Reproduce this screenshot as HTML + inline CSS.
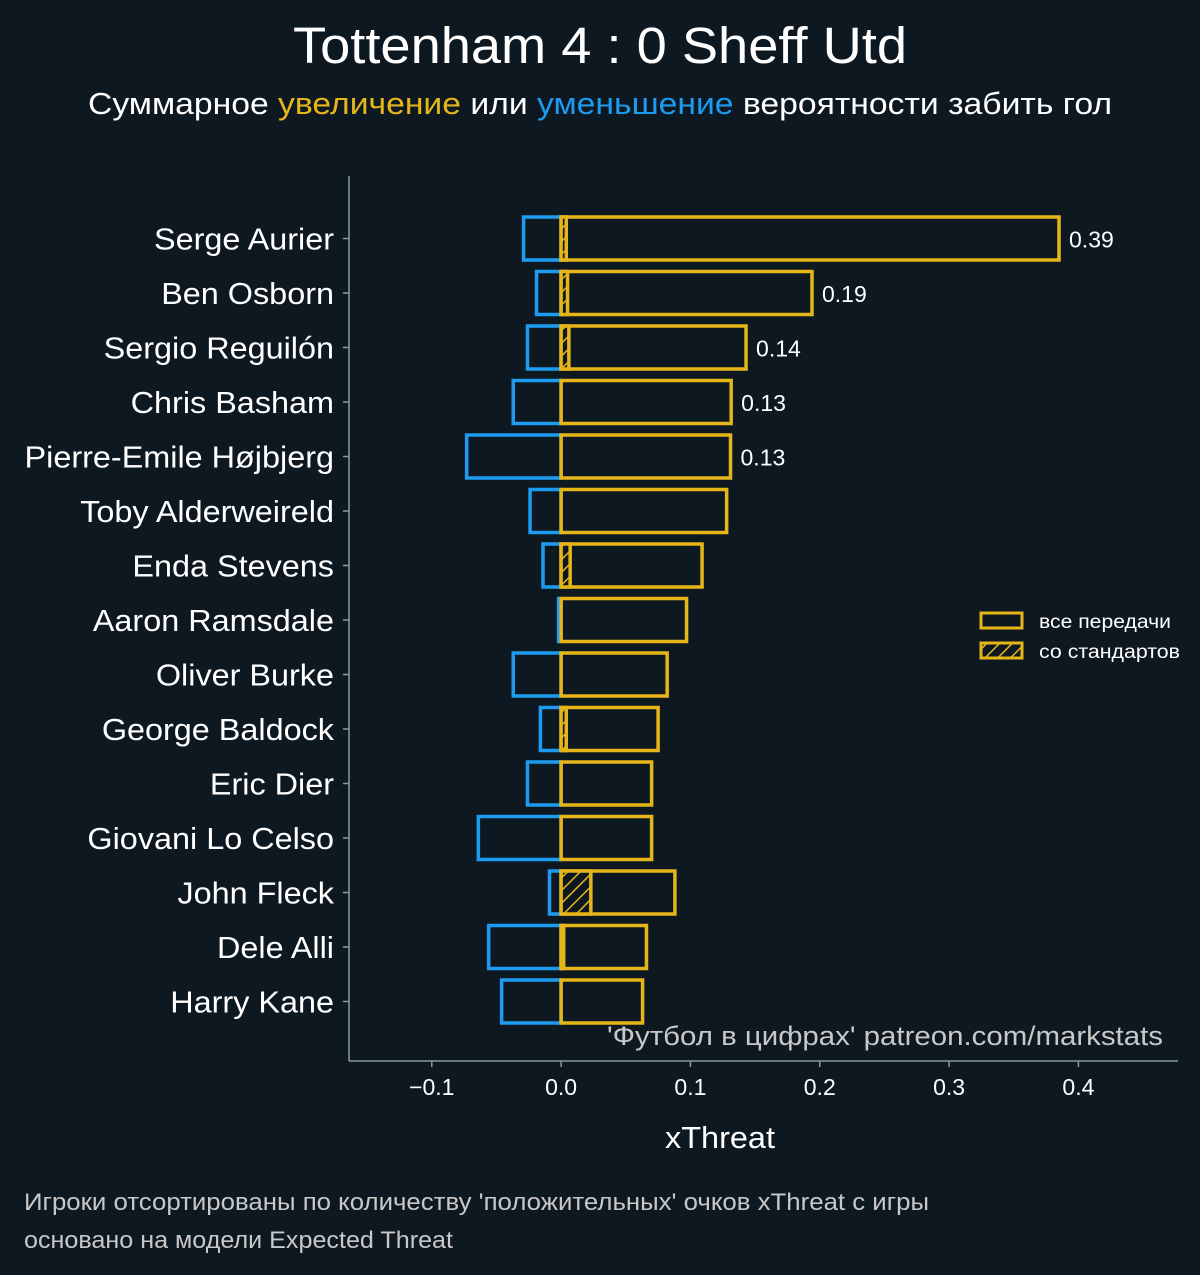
<!DOCTYPE html>
<html><head><meta charset="utf-8"><style>
html,body{margin:0;padding:0;background:#0e1821;}
svg{display:block;font-family:"Liberation Sans","DejaVu Sans",sans-serif;}
</style></head><body>
<svg id="chart" width="1200" height="1275" viewBox="0 0 1200 1275" xmlns="http://www.w3.org/2000/svg">
<defs>
<pattern id="hatch" width="9" height="9" patternUnits="userSpaceOnUse" patternTransform="rotate(45)">
<rect width="9" height="9" fill="#0e1821"/><line x1="0" y1="0" x2="0" y2="9" stroke="#e6b619" stroke-width="3"/>
</pattern>
</defs>
<rect width="1200" height="1275" fill="#0e1821"/>
<text x="293" y="63" textLength="614" lengthAdjust="spacingAndGlyphs" font-size="51" fill="#ffffff">Tottenham 4 : 0 Sheff Utd</text>
<text x="88" y="114" textLength="1024" lengthAdjust="spacingAndGlyphs" font-size="31" fill="#ffffff">Суммарное <tspan fill="#e6b619">увеличение</tspan> или <tspan fill="#1d9bf0">уменьшение</tspan> вероятности забить гол</text>
<g id="plot"></g>
<text x="607" y="1045" textLength="556" lengthAdjust="spacingAndGlyphs" font-size="27" fill="#c8c8c8">'Футбол в цифрах' patreon.com/markstats</text>
<text x="665" y="1148" textLength="110" lengthAdjust="spacingAndGlyphs" font-size="31" fill="#ffffff">xThreat</text>
<g>
<rect x="981" y="613" width="41" height="15" fill="none" stroke="#e6b619" stroke-width="3"/>
<text x="1039" y="628" textLength="132" lengthAdjust="spacingAndGlyphs" font-size="19" fill="#ffffff">все передачи</text>
<rect x="981" y="643" width="41" height="15" fill="url(#hatch)" stroke="#e6b619" stroke-width="3"/>
<text x="1039" y="658" textLength="141" lengthAdjust="spacingAndGlyphs" font-size="19" fill="#ffffff">со стандартов</text>
</g>
<text x="24" y="1210" textLength="905" lengthAdjust="spacingAndGlyphs" font-size="24" fill="#c8c8c8">Игроки отсортированы по количеству 'положительных' очков xThreat с игры</text>
<text x="24" y="1248" textLength="429" lengthAdjust="spacingAndGlyphs" font-size="24" fill="#c8c8c8">основано на модели Expected Threat</text>
</svg>
<script>
const players = ["Serge Aurier","Ben Osborn","Sergio Reguilón","Chris Basham","Pierre-Emile Højbjerg","Toby Alderweireld","Enda Stevens","Aaron Ramsdale","Oliver Burke","George Baldock","Eric Dier","Giovani Lo Celso","John Fleck","Dele Alli","Harry Kane"];
const positive = [0.385,0.194,0.143,0.1315,0.131,0.128,0.109,0.097,0.082,0.075,0.070,0.070,0.088,0.066,0.063];
const negative = [-0.029,-0.019,-0.026,-0.037,-0.073,-0.024,-0.014,-0.002,-0.037,-0.016,-0.026,-0.064,-0.009,-0.056,-0.046];
const setPiece = [0.004,0.005,0.006,0,0,0,0.007,0,0,0.004,0,0,0.023,0.002,0];
const valueLabels = ["0.39","0.19","0.14","0.13","0.13","","","","","","","","","",""];
const xTicks = [-0.1,0,0.1,0.2,0.3,0.4];
const xTickLabels = ["−0.1","0.0","0.1","0.2","0.3","0.4"];

const NS="http://www.w3.org/2000/svg";
const plot=document.getElementById('plot');
const X0=349,X1=1178,XMIN=-0.164,XMAX=0.477;
const x=v=>X0+(v-XMIN)/(XMAX-XMIN)*(X1-X0);
const Y0=238.5,STEP=54.5,BH=43;
const y=i=>Y0+i*STEP;
function mk(tag,attrs){const e=document.createElementNS(NS,tag);for(const k in attrs)e.setAttribute(k,attrs[k]);plot.appendChild(e);return e;}

let ax=mk('line',{x1:X0,y1:176,x2:X0,y2:1061,stroke:'#8a9a9a','stroke-width':1.5});


ax=mk('line',{x1:X0,y1:1061,x2:X1,y2:1061,stroke:'#8a9a9a','stroke-width':1.5});



xTicks.forEach((t,i)=>{
  const tk=mk('line',{x1:x(t),y1:1061,x2:x(t),y2:1067,stroke:'#8a9a9a','stroke-width':1.5});
  
  
  const tl=mk('text',{x:x(t),y:1095,'text-anchor':'middle','font-size':23,fill:'#ffffff'});
  tl.textContent=xTickLabels[i];
  
  
});

players.forEach((p,i)=>{
  const cy=y(i);
  const tk=mk('line',{x1:X0-6,y1:cy,x2:X0,y2:cy,stroke:'#8a9a9a','stroke-width':1.5});
  
  
  const lb=mk('text',{x:X0-15,y:cy+11,'text-anchor':'end','font-size':31,fill:'#ffffff'});
  lb.textContent=p;
  
  
  lb.setAttribute('transform',`translate(${X0-15},0) scale(1.045,1) translate(${-(X0-15)},0)`);

  const nb=mk('rect',{x:x(negative[i]),y:cy-BH/2,width:x(0)-x(negative[i]),height:BH,fill:'none',stroke:'#1d9bf0','stroke-width':3.5});
  
  
  const pb=mk('rect',{x:x(0),y:cy-BH/2,width:x(positive[i])-x(0),height:BH,fill:'none',stroke:'#e6b619','stroke-width':3.5});
  
  
  if(setPiece[i]>0){
    const sb=mk('rect',{x:x(0),y:cy-BH/2,width:x(setPiece[i])-x(0),height:BH,fill:'url(#hatch)',stroke:'#e6b619','stroke-width':3.5});
    
    
  }
  if(valueLabels[i]){
    const vl=mk('text',{x:x(positive[i])+10,y:cy+9,'font-size':23,fill:'#ffffff'});
    vl.textContent=valueLabels[i];
    
    
  }
});
</script>
</body></html>
